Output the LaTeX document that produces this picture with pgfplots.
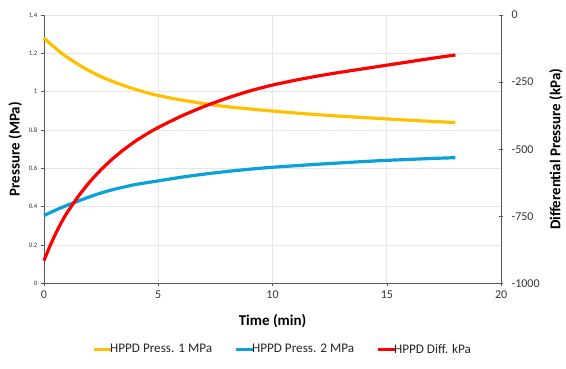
\documentclass[border=0pt]{standalone}
\usepackage{pgfplots}
\pgfplotsset{compat=1.18}
\usepackage{fontspec}
\setmainfont{Carlito}
\definecolor{cy}{HTML}{FFC000}
\definecolor{cb}{HTML}{0AA0DA}
\definecolor{cr}{HTML}{FF0000}
\definecolor{ax}{HTML}{595959}
\definecolor{gr}{HTML}{E6E6E6}
\begin{document}
\begin{tikzpicture}
\begin{axis}[name=main,
  scale only axis, width=458pt, height=269pt,
  xmin=0, xmax=20, ymin=0, ymax=1.4,
  xtick={0,5,10,15,20}, ytick={0,0.2,0.4,0.6,0.8,1,1.2,1.4},
  xticklabels={0,5,10,15,20},
  yticklabels={0,0.2,0.4,0.6,0.8,1,1.2,1.4},
  axis y line*=left, axis x line*=bottom,
  axis line style={ax, line width=0.8pt},
  tick style={ax, line width=0.6pt},
  major tick length=3pt,
  xtick align=outside, ytick align=outside,
  grid=major, major grid style={gr, line width=0.8pt},
  xticklabel style={font=\fontsize{12}{13}\selectfont, text=black!80, yshift=-1pt},
  yticklabel style={font=\fontsize{6.8}{7.5}\selectfont, text=black!80},
  xlabel={\textbf{Time (min)}}, ylabel={\textbf{Pressure (MPa)}},
  xlabel style={font=\fontsize{15}{16}\selectfont, at={(axis description cs:0.5,-0.141)}, anchor=center},
  ylabel style={font=\fontsize{15}{16}\selectfont, at={(axis description cs:-0.063,0.5)}, anchor=center},
  clip=false,
]
\addplot[cy, line width=3.2pt, smooth, tension=0.4] coordinates {
(0,1.28) (0.25,1.253) (0.5,1.228) (0.75,1.203) (1,1.181) (1.5,1.142) (2,1.108) (2.5,1.078) (3,1.054) (3.5,1.032) (4,1.012) (4.5,0.995) (5,0.98) (6,0.957) (7,0.938) (8,0.922) (9,0.910) (10,0.899) (11,0.889) (12,0.880) (13,0.872) (14,0.865) (15,0.858) (16,0.851) (17,0.845) (18,0.839)};
\addplot[cb, line width=3.2pt, smooth, tension=0.4] coordinates {
(0,0.354) (0.5,0.382) (1,0.407) (1.5,0.430) (2,0.452) (2.5,0.472) (3,0.489) (3.5,0.503) (4,0.516) (5,0.535) (6,0.554) (7,0.570) (8,0.584) (9,0.596) (10,0.606) (11,0.614) (12,0.622) (13,0.629) (14,0.636) (15,0.642) (16,0.647) (17,0.652) (18,0.656)};
\end{axis}
\begin{axis}[
  scale only axis, width=458pt, height=269pt,
  xmin=0, xmax=20, ymin=-1000, ymax=0,
  axis y line*=right, axis x line=none,
  axis line style={ax, line width=0.8pt},
  tick style={ax, line width=0.6pt},
  major tick length=4pt, ytick align=center,
  ytick={-1000,-750,-500,-250,0},
  yticklabels={-1000,-750,-500,-250,0},
  yticklabel style={font=\fontsize{12}{13}\selectfont, text=black!80, xshift=5pt},
  ylabel={\textbf{Differential Pressure (kPa)}},
  ylabel style={font=\fontsize{15}{16}\selectfont, at={(axis description cs:1.12,0.5)}, anchor=center},
  legend columns=3,
  legend style={draw=none, fill=none, at={(0.522,-0.245)}, anchor=center,
    font=\fontsize{13.2}{14}\selectfont, text=black!85,
    /tikz/every even column/.append style={column sep=20pt}},
  legend image code/.code={\draw[#1, line width=3pt] (0pt,0pt) -- (18pt,0pt);},
  clip=false,
]
\addlegendimage{cy}\addlegendentry{\hspace{-5pt}HPPD Press. 1 MPa}
\addlegendimage{cb}\addlegendentry{\hspace{-5pt}HPPD Press. 2 MPa}
\addplot[cr, line width=3.2pt, smooth, tension=0.4] coordinates {
(0,-915) (0.25,-863) (0.5,-817) (0.75,-775) (1,-738) (1.5,-676) (2,-622) (2.5,-576) (3,-536) (3.5,-501) (4,-470) (4.5,-443) (5,-419) (6,-377) (7,-341) (8,-310) (9,-283) (10,-261) (11,-243) (12,-227) (13,-213) (14,-200) (15,-187) (16,-174) (17,-161) (18,-149)};
\addlegendentry{\hspace{-5pt}HPPD Diff. kPa}
\end{axis}
\path ([xshift=-44pt,yshift=-85pt]main.south west) rectangle ([xshift=64pt,yshift=15pt]main.north east);
\end{tikzpicture}
\end{document}
